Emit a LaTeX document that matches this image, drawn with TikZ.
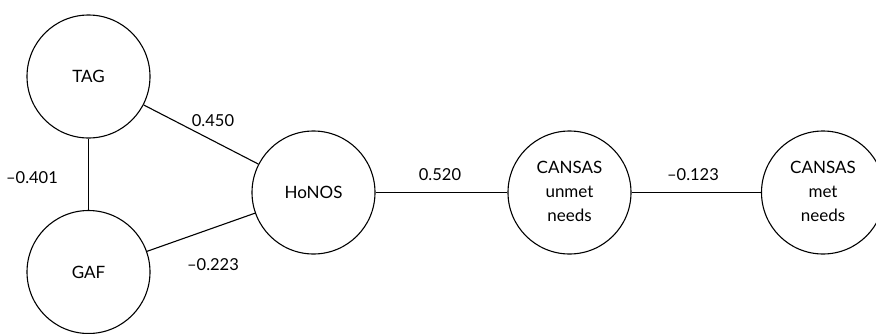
\documentclass[tikz,border=0pt]{standalone}
\usepackage{fontspec}
\setmainfont{Lato}
\begin{document}
\begin{tikzpicture}[x=1pt,y=-1pt,
  var/.style={circle,draw,line width=1.1pt,minimum size=123pt,inner sep=0pt,align=center,font=\fontsize{17}{24}\selectfont},
  coef/.style={font=\fontsize{16.5}{20}\selectfont,inner sep=1pt},
  link/.style={line width=1.1pt}]
\useasboundingbox (0,0) rectangle (876,333);
\node[var] (tag) at (88.5,76.5) {\raisebox{-5pt}{TAG}};
\node[var] (gaf) at (88.5,272) {\raisebox{-5pt}{GAF}};
\node[var] (honos) at (313.5,192.5) {\raisebox{-5pt}{HoNOS}};
\node[var] (unmet) at (569.5,192.5) {\raisebox{-5pt}{\begin{tabular}{@{}c@{}}CANSAS\\ unmet\\ needs\end{tabular}}};
\node[var] (met) at (823,192.5) {\raisebox{-5pt}{\begin{tabular}{@{}c@{}}CANSAS\\ met\\ needs\end{tabular}}};
\draw[link] (tag) -- (gaf);
\draw[link] (tag) -- (honos);
\draw[link] (gaf) -- (honos);
\draw[link] (honos) -- (unmet);
\draw[link] (unmet) -- (met);
\node[coef] (c1) at (213,121) {0.450};
\node[coef] (c2) at (32,178) {\textendash0.401};
\node[coef] (c3) at (213,265) {\textendash0.223};
\node[coef] (c4) at (440,175) {0.520};
\node[coef] (c5) at (693,175) {\textendash0.123};
\end{tikzpicture}
\end{document}
